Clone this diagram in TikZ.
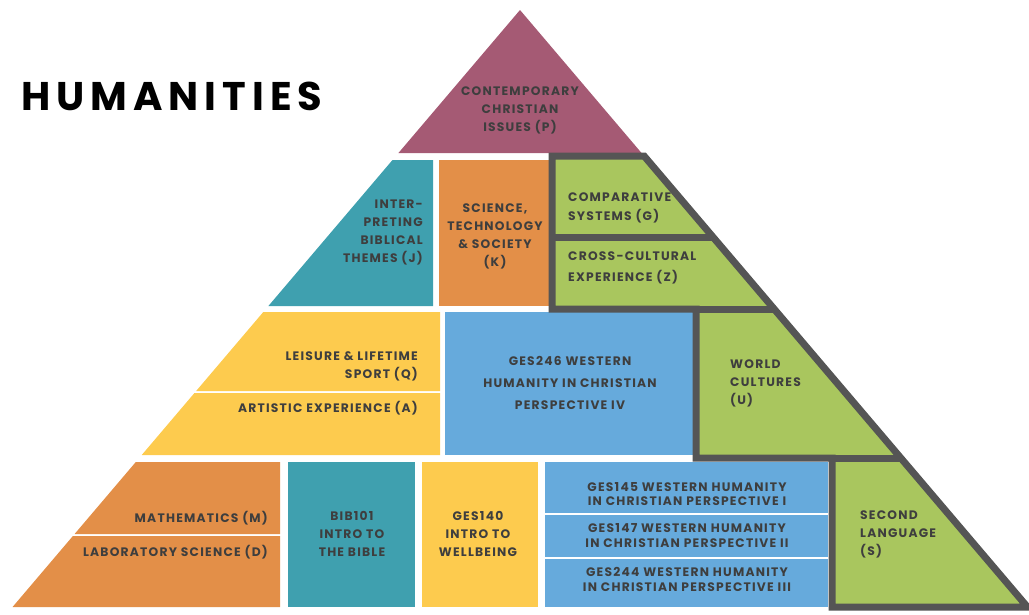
\documentclass[tikz,border=0pt]{standalone}
\usepackage{fontspec}
\setmainfont{Poppins}
\newfontfamily\labfont{Poppins}[LetterSpace=10]
\newfontfamily\ttlfont{Poppins}[LetterSpace=15]
\definecolor{mauve}{HTML}{A55A74}
\definecolor{tealc}{HTML}{3FA0AF}
\definecolor{orng}{HTML}{E38F48}
\definecolor{yel}{HTML}{FDCB4E}
\definecolor{blu}{HTML}{66AADC}
\definecolor{grn}{HTML}{A9C65E}
\definecolor{gry}{HTML}{555555}
\definecolor{txt}{HTML}{3E3E3E}
\begin{document}
\begin{tikzpicture}[x=1pt,y=-1pt,
  lab/.style={text=txt, font=\labfont\bfseries\fontsize{12.3}{18}\selectfont, inner sep=0pt},
  labc/.style={lab, align=center},
  labr/.style={lab, align=right, anchor=east},
  labl/.style={lab, align=left, anchor=west},
  border/.style={draw=gry, line width=7pt, line join=miter}]
\useasboundingbox (0,0) rectangle (1029,614);
% shapes
\fill[mauve] (520,10) -- (398.45,153) -- (641.55,153) -- cycle;
\fill[tealc] (392.5,160) -- (433,160) -- (433,306) -- (268.4,306) -- cycle;
\fill[orng] (439,160) rectangle (549,306);
\fill[grn] (552,156) -- (644.1,156) -- (1027.45,607) -- (832,607) -- (832,458) -- (696,458) -- (696,309) -- (552,309) -- cycle;
\fill[yel] (263.3,312) -- (440,312) -- (440,391) -- (196.15,391) -- cycle;
\fill[yel] (194.45,393) -- (440,393) -- (440,455) -- (141.75,455) -- cycle;
\fill[blu] (445,312) rectangle (693,455);
\fill[orng] (135.8,462) -- (280,462) -- (280,534) -- (74.6,534) -- cycle;
\fill[orng] (72.9,536) -- (280,536) -- (280,607) -- (12.55,607) -- cycle;
\fill[tealc] (288,462) rectangle (415,607);
\fill[yel] (422,462) rectangle (538,607);
\fill[blu] (545,462) rectangle (828,513);
\fill[blu] (545,515) rectangle (828,557);
\fill[blu] (545,559) rectangle (828,607);
% borders
\draw[border] (552,156) -- (644.1,156) -- (1027.45,607) -- (832,607) -- (832,458) -- (696,458) -- (696,309) -- (552,309) -- cycle;
\draw[border] (552,237) -- (712.95,237);
\draw[border] (696,309) -- (774.15,309);
\draw[border] (832,458) -- (900.8,458);
% title
\node[anchor=base west, inner sep=0pt, font=\ttlfont\bfseries\fontsize{40}{40}\selectfont] (title) at (21,110) {HUMANITIES};
% labels
\node[labc] (p) at (520,110) {CONTEMPORARY\\CHRISTIAN\\ISSUES (P)};
\node[labr] (j) at (423,232.5) {INTER-\\PRETING\\BIBLICAL\\THEMES (J)};
\node[labc] (k) at (495,236) {SCIENCE,\\TECHNOLOGY\\\& SOCIETY\\(K)};
\node[labl, font=\labfont\bfseries\fontsize{12.3}{19}\selectfont] (g) at (568,207.5) {COMPARATIVE\\SYSTEMS (G)};
\node[labl, font=\labfont\bfseries\fontsize{12.3}{21}\selectfont] (z) at (568,267.5) {CROSS-CULTURAL\\EXPERIENCE (Z)};
\node[labr] (q) at (418,366.5) {LEISURE \& LIFETIME\\SPORT (Q)};
\node[labr] (a) at (418,408) {ARTISTIC EXPERIENCE (A)};
\node[labc, font=\labfont\bfseries\fontsize{12.3}{22}\selectfont] (w4) at (570,383) {GES246 WESTERN\\HUMANITY IN CHRISTIAN\\PERSPECTIVE IV};
\node[labl] (u) at (730,383) {WORLD\\CULTURES\\(U)};
\node[labr] (m) at (268,518) {MATHEMATICS (M)};
\node[labr] (d) at (268,552) {LABORATORY SCIENCE (D)};
\node[labc] (bib) at (352,534) {BIB101\\INTRO TO\\THE BIBLE};
\node[labc] (wb) at (478,534) {GES140\\INTRO TO\\WELLBEING};
\node[labc, font=\labfont\bfseries\fontsize{12.3}{14.5}\selectfont] (w1) at (687,494) {GES145 WESTERN HUMANITY\\IN CHRISTIAN PERSPECTIVE I};
\node[labc, font=\labfont\bfseries\fontsize{12.3}{14.5}\selectfont] (w2) at (687,535.5) {GES147 WESTERN HUMANITY\\IN CHRISTIAN PERSPECTIVE II};
\node[labc, font=\labfont\bfseries\fontsize{12.3}{14.5}\selectfont] (w3) at (687,579.5) {GES244 WESTERN HUMANITY\\IN CHRISTIAN PERSPECTIVE III};
\node[labl] (s) at (860,534.5) {SECOND\\LANGUAGE\\(S)};
\end{tikzpicture}
\end{document}
